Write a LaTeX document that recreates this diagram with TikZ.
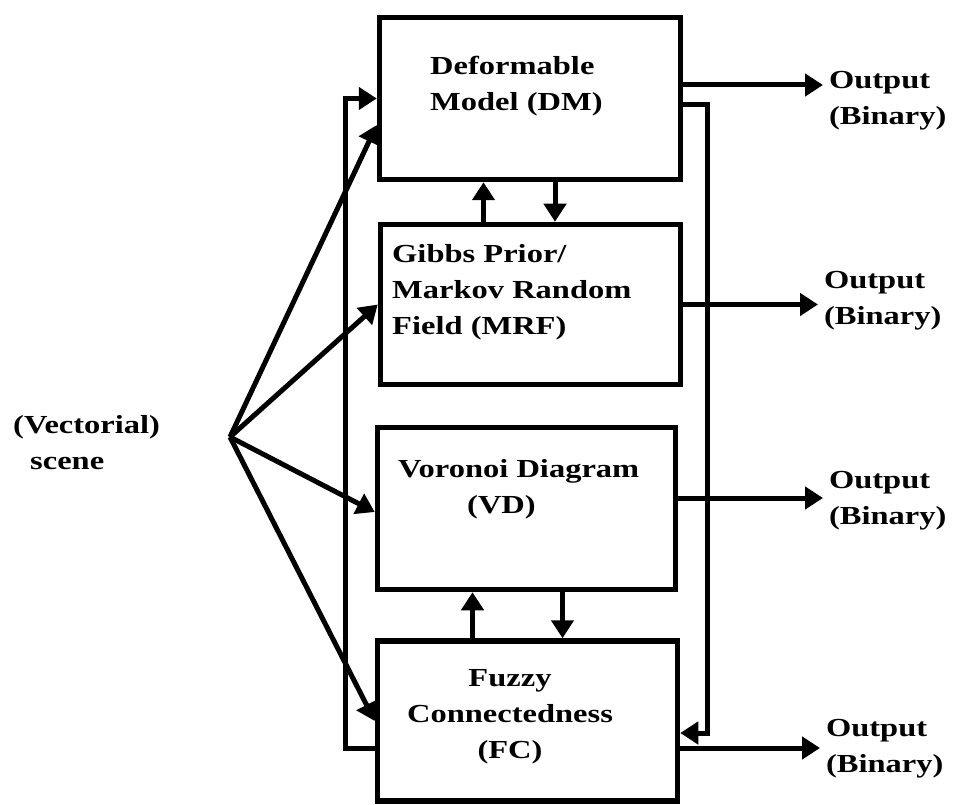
\documentclass[tikz,border=0pt]{standalone}
\usepackage{fontspec}
\setmainfont{Liberation Serif}[FakeStretch=1.25]
\usetikzlibrary{arrows.meta}

\begin{document}
\begin{tikzpicture}[x=1pt, y=-1pt,
      every node/.style={font=\bfseries\fontsize{26}{36}\selectfont},
      box/.style={draw, line width=5.5pt, inner sep=0pt},
      lbl/.style={inner sep=0pt, align=left},
      outlbl/.style={inner sep=0pt, outer xsep=6pt, align=left, anchor=west},
      arr/.style={line width=5pt, -{Triangle[length=18pt,width=22pt]}}]
    \useasboundingbox (0,0) rectangle (959,805);
    % the four methods
    \node[box, minimum width=301pt, minimum height=162pt] (dm) at (530,98.5) {};
    \node[box, minimum width=300pt, minimum height=160pt] (mrf) at (530.5,304.5) {};
    \node[box, minimum width=298pt, minimum height=162pt] (vd) at (526.5,508.5) {};
    \node[box, minimum width=300pt, minimum height=160pt] (fc) at (527.5,721) {};
    \node[lbl, anchor=west] (dmtxt) at (430,86) {Deformable\\Model (DM)};
    \node[lbl, anchor=west] (mrftxt) at (392,292) {Gibbs Prior/\\Markov Random\\Field (MRF)};
    \node[lbl, anchor=west] (vdtxt) at (398,489) {Voronoi Diagram\\\hspace*{69pt}(VD)};
    \node[lbl, align=center] (fctxt) at (510,717) {Fuzzy\\Connectedness\\(FC)};
    % input scene
    \node[lbl, anchor=west] (scene) at (13,443) {(Vectorial)\\\hspace*{17pt}scene};
    \coordinate (fan) at (230,437);
    \draw[arr] (fan) -- ([yshift=-26.5pt]dm.west);
    \draw[arr] (fan) -- (mrf.west);
    \draw[arr] (fan) -- ([yshift=-3.5pt]vd.west);
    \draw[arr] (fan) -- (fc.west);
    % exchange between neighbours
    \coordinate (dmup) at ([xshift=-47pt]mrf.north);
    \coordinate (dmdn) at ([xshift=25pt]dm.south);
    \coordinate (vdup) at ([xshift=-55pt]fc.north);
    \coordinate (vddn) at ([xshift=36pt]vd.south);
    \draw[arr] (dmup) -- (dmup |- dm.south);
    \draw[arr] (dmdn) -- (dmdn |- mrf.north);
    \draw[arr] (vdup) -- (vdup |- vd.south);
    \draw[arr] (vddn) -- (vddn |- fc.north);
    % feedback loops DM <-> FC
    \coordinate (loopl) at (345,400);
    \coordinate (loopr) at (707,400);
    \draw[arr] ([yshift=-27pt]fc.west) -| (loopl) |- (dm.west);
    \draw[arr] ([yshift=-6.5pt]dm.east) -| (loopr) |- ([yshift=-12pt]fc.east);
    % outputs
    \node[outlbl] (dmout) at (823,101) {Output\\(Binary)};
    \node[outlbl] (mrfout) at (818,301) {Output\\(Binary)};
    \node[outlbl] (vdout) at (823,501) {Output\\(Binary)};
    \node[outlbl] (fcout) at (820,749) {Output\\(Binary)};
    \coordinate (dmo) at ([yshift=13.5pt]dm.east);
    \coordinate (vdo) at ([yshift=10.5pt]vd.east);
    \coordinate (fco) at ([yshift=-27pt]fc.east);
    \draw[arr] (dmo) -- (dmo -| dmout.west);
    \draw[arr] (mrf.east) -- (mrf.east -| mrfout.west);
    \draw[arr] (vdo) -- (vdo -| vdout.west);
    \draw[arr] (fco) -- (fco -| fcout.west);
\end{tikzpicture}
\end{document}
